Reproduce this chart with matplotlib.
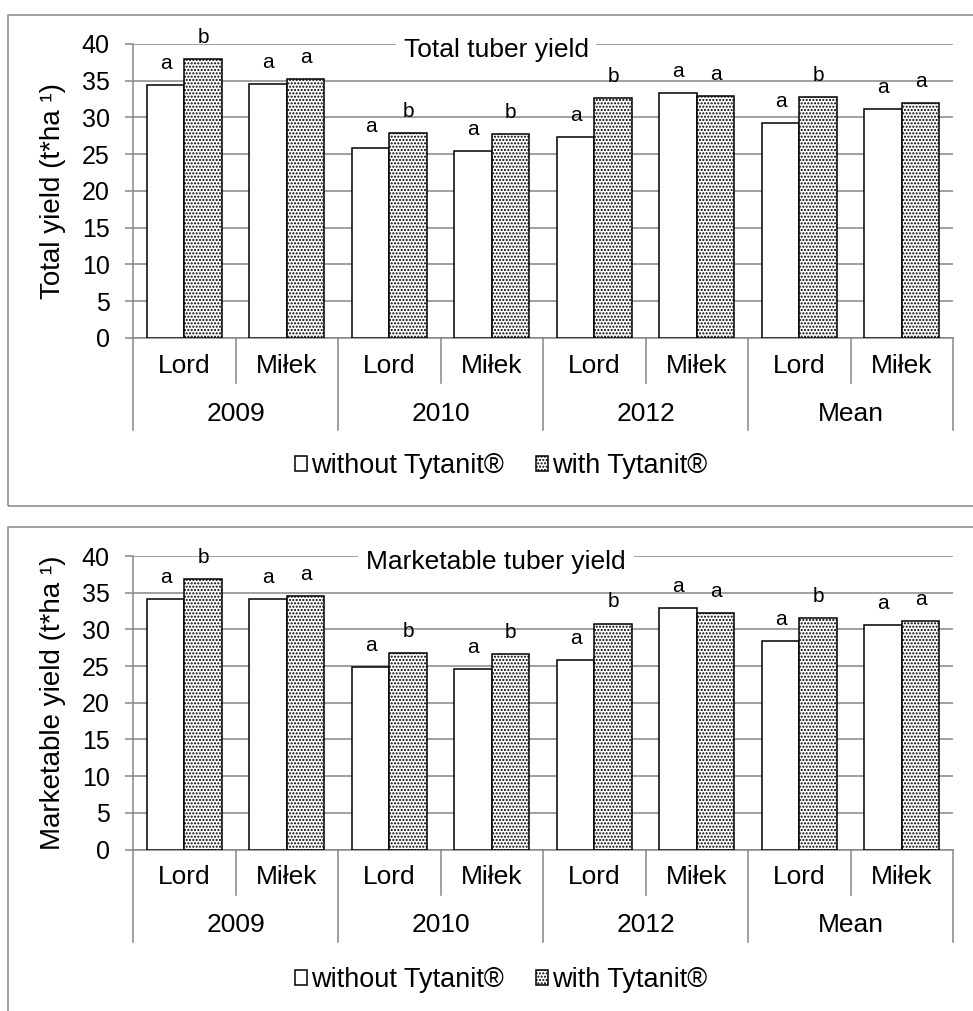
import matplotlib.pyplot as plt
import matplotlib.transforms as mtransforms
from matplotlib.patches import Rectangle
import numpy as np

plt.rcParams['font.family'] = ['Liberation Sans', 'DejaVu Sans']
plt.rcParams['hatch.linewidth'] = 1.0

varieties = ['Lord', 'Miłek', 'Lord', 'Miłek', 'Lord', 'Miłek', 'Lord', 'Miłek']
years = ['2009', '2010', '2012', 'Mean']
series_names = ['without Tytanit®', 'with Tytanit®']

total_without = [34.4, 34.6, 25.9, 25.5, 27.3, 33.3, 29.2, 31.2]
total_with = [37.9, 35.2, 27.9, 27.7, 32.7, 32.9, 32.8, 32.0]
market_without = [34.2, 34.2, 24.9, 24.6, 25.8, 32.9, 28.4, 30.6]
market_with = [36.9, 34.5, 26.8, 26.6, 30.8, 32.2, 31.6, 31.1]
letters_without = ['a', 'a', 'a', 'a', 'a', 'a', 'a', 'a']
letters_with = ['b', 'a', 'b', 'b', 'b', 'a', 'b', 'a']

W, H = 973, 1011
GRAY = '#868686'
LW = 1.1


def fx(px):
    return px / W


def fy(py):
    return 1 - py / H


fig = plt.figure(figsize=(W / 100, H / 100), dpi=100)


def panel(top_px, bottom_px, without, with_, title, ylabel, frame_top, frame_h, legend_px):
    ax = fig.add_axes([fx(133), fy(bottom_px), 820 / W, (bottom_px - top_px) / H])
    ax_h = bottom_px - top_px
    x = np.arange(len(varieties))
    w = 0.366
    b1 = ax.bar(x - w / 2, without, w, color='white', edgecolor='black', lw=1.1, zorder=3)
    b2 = ax.bar(x + w / 2, with_, w, color='white', edgecolor='black', lw=1.1,
                hatch='.....', zorder=3)
    for i in range(len(x)):
        ax.annotate(letters_without[i], (x[i] - w / 2, without[i]), xytext=(0, 15.5),
                    textcoords='offset points', ha='center', va='center', fontsize=15)
        ax.annotate(letters_with[i], (x[i] + w / 2, with_[i]), xytext=(0, 15.5),
                    textcoords='offset points', ha='center', va='center', fontsize=15)

    ax.set_xlim(-0.5, 7.5)
    ax.set_ylim(0, 40)
    ax.set_yticks(np.arange(0, 41, 5))
    ax.set_xticks([])
    ax.grid(axis='y', color=GRAY, lw=LW, zorder=0)
    ax.set_axisbelow(True)
    for s in ['top', 'right']:
        ax.spines[s].set_visible(False)
    for s in ['left', 'bottom']:
        ax.spines[s].set_color(GRAY)
        ax.spines[s].set_linewidth(LW)
    ax.tick_params(axis='y', length=5.8, width=LW, color=GRAY, labelsize=18, pad=11)

    # two-level category axis
    trans = mtransforms.blended_transform_factory(ax.transData, ax.transAxes)
    for k, xd in enumerate(np.arange(-0.5, 8, 1.0)):
        depth = 92 if k % 2 == 0 else 45
        ax.plot([xd, xd], [0, -depth / ax_h], transform=trans, color=GRAY, lw=LW,
                clip_on=False)
    for i, v in enumerate(varieties):
        ax.text(x[i], -28 / ax_h, v, transform=trans, ha='center', va='center', fontsize=19)
    for j, yr in enumerate(years):
        ax.text(2 * j + 0.5, -76 / ax_h, yr, transform=trans, ha='center', va='center',
                fontsize=19)

    ax.text(fx(496), fy(top_px + 6.5), title, transform=fig.transFigure, ha='center',
            va='center', fontsize=19, zorder=5,
            bbox=dict(boxstyle='square,pad=0.3', fc='white', ec='none'))

    fig.text(fx(53), fy((top_px + bottom_px) / 2), ylabel, rotation=90, ha='center',
             va='center', fontsize=20)

    fig.legend([b1, b2], series_names, loc='center', ncol=2, frameon=False,
               bbox_to_anchor=(fx(501), fy(legend_px)), fontsize=19.5,
               handlelength=0.45, handleheight=0.45, handletextpad=0.15,
               columnspacing=1.2)

    fig.patches.append(Rectangle((fx(8), fy(frame_top + frame_h)), 1.2, frame_h / H,
                                 transform=fig.transFigure, fill=False, ec=GRAY, lw=LW))
    return ax


panel(44, 338, total_without, total_with, 'Total tuber yield', 'Total yield (t*ha ¹)',
      14.7, 491, 466)
panel(556, 849.5, market_without, market_with, 'Marketable tuber yield',
      'Marketable yield (t*ha ¹)', 526.7, 600, 980)

fig.savefig('out.png', dpi=100)
